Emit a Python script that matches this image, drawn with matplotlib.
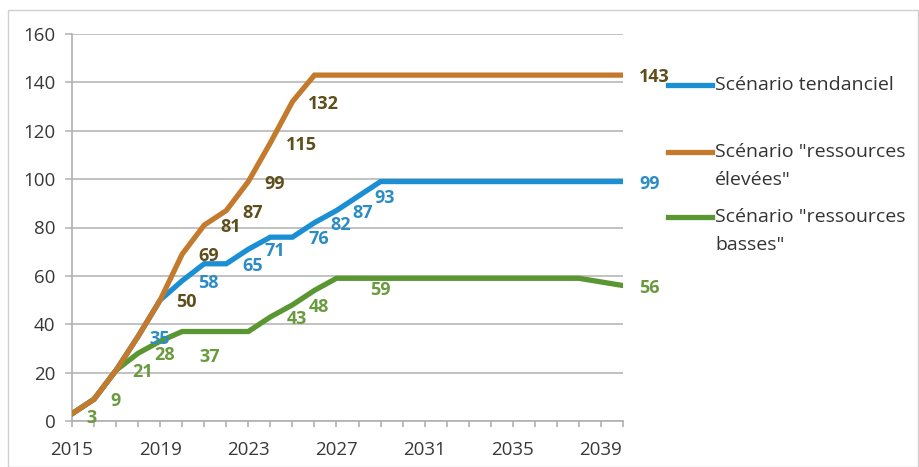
import matplotlib
matplotlib.use("Agg")
import matplotlib.pyplot as plt
from matplotlib.lines import Line2D
from matplotlib.patches import Rectangle

plt.rcParams['font.family'] = ['Open Sans', 'DejaVu Sans']

years = list(range(2015, 2041))
tendanciel = [3, 9, 21, 35, 50, 58, 65, 65, 71, 76, 76, 82, 87, 93, 99,
              99, 99, 99, 99, 99, 99, 99, 99, 99, 99, 99]
eleve = [3, 9, 21, 35, 50, 69, 81, 87, 99, 115, 132, 143, 143, 143, 143,
         143, 143, 143, 143, 143, 143, 143, 143, 143, 143, 143]
basse = [3, 9, 21, 28, 33, 37, 37, 37, 37, 43, 48, 54, 59, 59, 59,
         59, 59, 59, 59, 59, 59, 59, 59, 59, 57.5, 56]

names = [['Scénario tendanciel'],
         ['Scénario "ressources', 'élevées"'],
         ['Scénario "ressources', 'basses"']]
xtick_labels = ['2015', '2019', '2023', '2027', '2031', '2035', '2039']

# labelled years per series
lab_tend = [2018, 2020, 2022, 2023, 2025, 2026, 2027, 2028, 2040]
lab_elev = [2019, 2020, 2021, 2022, 2023, 2024, 2025, 2040]
lab_bas = [2015, 2016, 2017, 2018, 2020, 2024, 2025, 2028, 2040]

c_tend, c_elev, c_bas = '#1a8fd4', '#c47a2c', '#5a9631'
t_tend, t_elev, t_bas = '#2c8cc4', '#5e4e1c', '#6a9a3e'

W, H = 920, 467
fig = plt.figure(figsize=(W / 100, H / 100), dpi=100)
fig.add_artist(Rectangle((8 / W, 0), 910 / W, (H - 10) / H, transform=fig.transFigure,
                         fill=False, edgecolor='#d0d0d0', linewidth=1))
ax = fig.add_axes([72 / W, (H - 421) / H, (623 - 72) / W, (421 - 34) / H])

lw = 3.8
ax.plot(years, tendanciel, color=c_tend, lw=lw, solid_joinstyle='miter', zorder=3)
ax.plot(years, basse, color=c_bas, lw=lw, solid_joinstyle='miter', zorder=4)
ax.plot(years, eleve, color=c_elev, lw=lw, solid_joinstyle='miter', zorder=5)

ax.set_xlim(2015, 2040)
ax.set_ylim(0, 160)
ax.set_yticks(range(0, 161, 20))
ax.set_xticks(years)
ax.set_xticklabels([str(y) if str(y) in xtick_labels else '' for y in years])
ax.grid(axis='y', color='#b8b8b8', lw=1.2, zorder=0)
for s in ['top', 'right']:
    ax.spines[s].set_visible(False)
for s in ['left', 'bottom']:
    ax.spines[s].set_color('#b0b0b0')
    ax.spines[s].set_linewidth(1.2)
ax.tick_params(axis='y', length=5, width=1.2, color='#b8b8b8', pad=7,
               labelsize=13.5, labelcolor='#383838')
ax.tick_params(axis='x', length=4.5, width=1.2, color='#b0b0b0', pad=10,
               labelsize=13.5, labelcolor='#383838')


def label(series, yrs, color, special):
    for y in yrs:
        v = series[years.index(y)]
        dx, dy = special.get(y, (16, -2))
        ax.annotate(f'{v:g}', (y, v), xytext=(dx, dy),
                    textcoords='offset pixels', ha='left', va='center',
                    fontsize=13, fontweight='bold', color=color, zorder=6,
                    annotation_clip=False)


label(tendanciel, lab_tend, t_tend, {2018: (11, -3)})
label(eleve, lab_elev, t_elev, {})
label(basse, lab_bas, t_bas, {2015: (14, -4), 2020: (17, -25), 2028: (12, -12)})

# legend
leg_y = [85, 152, 217]
for (yy, col, nm) in zip(leg_y, [c_tend, c_elev, c_bas], names):
    fig.add_artist(Line2D([668 / W, 712 / W], [(H - yy) / H] * 2, color=col, lw=lw,
                          transform=fig.transFigure))
    for k, line in enumerate(nm):
        fig.text(715 / W, (H - yy - 28 * k) / H, line, ha='left', va='center',
                 fontsize=14, color='#333333', transform=fig.transFigure)

fig.savefig('out.png', dpi=100)
